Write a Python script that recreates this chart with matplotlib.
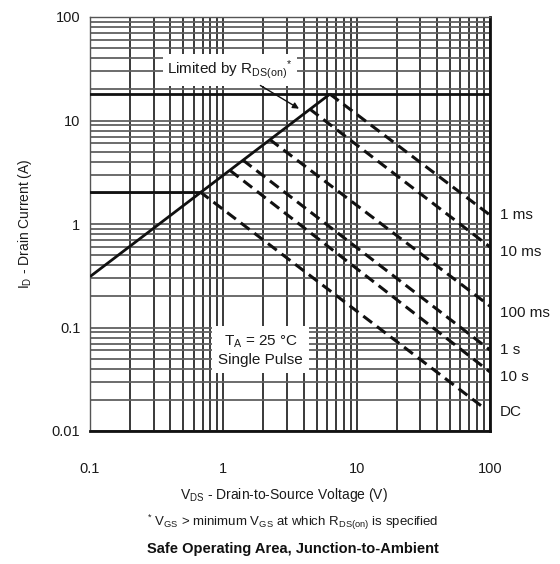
import matplotlib
matplotlib.use("Agg")
import matplotlib.pyplot as plt
from matplotlib.ticker import LogLocator, FixedLocator, NullFormatter
from matplotlib.transforms import blended_transform_factory

plt.rcParams['font.family'] = ['Liberation Sans', 'DejaVu Sans']
plt.rcParams['mathtext.fontset'] = 'custom'
plt.rcParams['mathtext.rm'] = 'Liberation Sans'
plt.rcParams['mathtext.it'] = 'Liberation Sans'
plt.rcParams['mathtext.bf'] = 'Liberation Sans:bold'

# RDS(on) limit line (solid)
rds_v = [0.1, 6.3]
rds_i = [0.31, 18.0]
# pulsed current limit (solid horizontal)
pulse_lim_v = [0.1, 100]
pulse_lim_i = [18.0, 18.0]
# continuous current limit (solid horizontal)
cont_lim_v = [0.1, 0.667]
cont_lim_i = [2.05, 2.05]

# dashed SOA boundaries: start on RDS(on) line, end at right
curve_labels = ["1 ms", "10 ms", "100 ms", "1 s", "10 s", "DC"]
start_v = [6.3, 4.45, 2.23, 1.40, 1.12, 0.667]
start_i = [18.0, 12.9, 6.55, 4.15, 3.3, 2.05]
end_v = [100, 100, 100, 100, 100, 88]
end_i = [1.22, 0.60, 0.161, 0.0606, 0.0372, 0.0171]
label_i = [1.22, 0.536, 0.138, 0.0606, 0.0332, 0.0153]

x_ticks = [0.1, 1, 10, 100]
x_ticklabels = ["0.1", "1", "10", "100"]
y_ticks = [0.01, 0.1, 1, 10, 100]
y_ticklabels = ["0.01", "0.1", "1", "10", "100"]

fig = plt.figure(figsize=(5.6, 5.64), dpi=100)
ax = fig.add_axes([90/560, 1-431/564, 400/560, 414/564])
ax.set_xscale('log')
ax.set_yscale('log')
ax.set_xlim(0.1, 100)
ax.set_ylim(0.01, 100)

ax.xaxis.set_major_locator(FixedLocator(x_ticks))
ax.yaxis.set_major_locator(FixedLocator(y_ticks))
ax.xaxis.set_minor_locator(LogLocator(base=10, subs=range(2, 10), numticks=20))
ax.yaxis.set_minor_locator(LogLocator(base=10, subs=range(2, 10), numticks=20))
ax.xaxis.set_minor_formatter(NullFormatter())
ax.yaxis.set_minor_formatter(NullFormatter())
ax.set_xticklabels(x_ticklabels)
ax.set_yticklabels(y_ticklabels)
ax.tick_params(which='both', length=0, labelsize=10.5, colors='#1a1a1a')
ax.tick_params(axis='x', pad=22)
ax.tick_params(axis='y', pad=7)

ax.xaxis.grid(True, which='both', color='#2a2a2a', lw=1.3)
ax.yaxis.grid(True, which='both', color='#606060', lw=1.3)
ax.set_axisbelow(True)

for s in ['bottom', 'right']:
    ax.spines[s].set_linewidth(2.0)
    ax.spines[s].set_color('#111111')
for s in ['top', 'left']:
    ax.spines[s].set_linewidth(1.0)
    ax.spines[s].set_color('#555555')

lc = '#111111'
ax.plot(rds_v, rds_i, color=lc, lw=2.0, zorder=5, solid_capstyle='butt')
ax.plot(pulse_lim_v, pulse_lim_i, color=lc, lw=2.0, zorder=3)
ax.plot(cont_lim_v, cont_lim_i, color=lc, lw=2.0, zorder=5)

tr = blended_transform_factory(ax.transAxes, ax.transData)
for lab, sv, si, ev, ei, li in zip(curve_labels, start_v, start_i, end_v, end_i, label_i):
    ax.plot([sv, ev], [si, ei], color=lc, lw=2.2, dashes=(3.6, 2.0), zorder=5,
            dash_capstyle='butt')
    ax.text(1.025, li, lab, transform=tr, ha='left', va='center',
            fontsize=11, color='#1a1a1a', clip_on=False)

ax.text(1.12, 30.8, r"Limited by R$_{\mathrm{DS(on)}}$$^{*}$", ha='center', va='center',
        fontsize=11, color='#1a1a1a', zorder=4,
        bbox=dict(boxstyle='square,pad=0.3', fc='white', ec='none'))
ax.annotate("", xy=(3.85, 12.6), xytext=(1.82, 22.5),
            arrowprops=dict(arrowstyle='-|>', color=lc, lw=1.0, mutation_scale=9),
            zorder=6)

ax.text(1.91, 0.0606, "T$_{\\mathrm{A}}$ = 25 °C\nSingle Pulse", ha='center', va='center',
        fontsize=11, color='#1a1a1a', linespacing=1.25, zorder=4,
        bbox=dict(boxstyle='square,pad=0.4', fc='white', ec='none'))

ax.set_ylabel(r"I$_{\mathrm{D}}$ - Drain Current (A)", fontsize=10, color='#1a1a1a')
ax.yaxis.set_label_coords(-0.14, 0.5)

fig.text(284/560, 1-495/564, r"V$_{\mathrm{DS}}$ - Drain-to-Source Voltage (V)",
         ha='center', va='center', fontsize=10, color='#1a1a1a')
fig.text(293/560, 1-522/564,
         r"$^{*}$ V$_{\mathrm{GS}}$ > minimum V$_{\mathrm{GS}}$ at which R$_{\mathrm{DS(on)}}$ is specified",
         ha='center', va='center', fontsize=9.5, color='#1a1a1a')
fig.text(293/560, 1-549/564, "Safe Operating Area, Junction-to-Ambient",
         ha='center', va='center', fontsize=10.5, fontweight='bold', color='#111111')

fig.savefig("out.png", dpi=100)
